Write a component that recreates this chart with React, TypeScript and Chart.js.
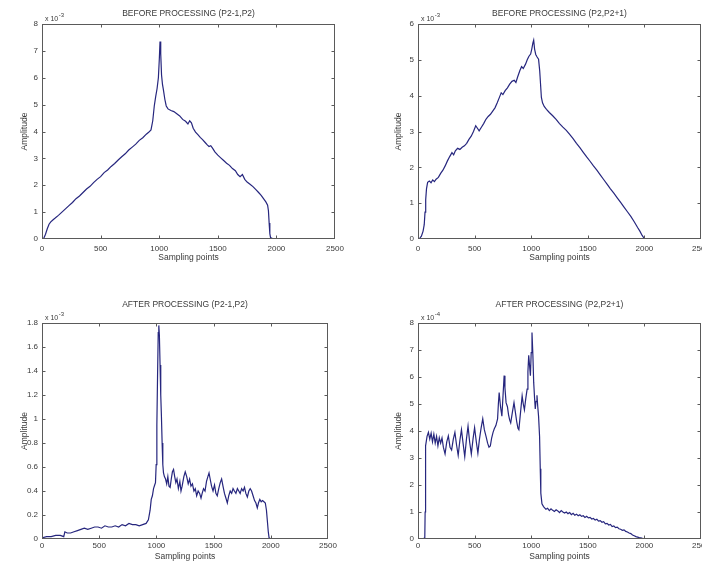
import React, { useEffect, useRef } from "react";
import { Chart, registerables } from "chart.js";

Chart.register(...registerables);

const FONT = "'Liberation Sans', Arial, Helvetica, sans-serif";
const LINE = "#26267e";
const TXT = "#3a3a3a";
const FRAME = "#5a5a5a";

const xTickValues = [0, 500, 1000, 1500, 2000, 2500];

const titles = [
  "BEFORE PROCESSING (P2-1,P2)",
  "BEFORE PROCESSING (P2,P2+1)",
  "AFTER PROCESSING (P2-1,P2)",
  "AFTER PROCESSING (P2,P2+1)",
];
const xLabel = "Sampling points";
const yLabel = "Amplitude";

// Top-left: before processing (P2-1,P2), amplitude x 10^-3
const tlX = [
  0, 15, 30, 45, 60, 75, 90, 110, 140, 170, 200, 230, 260, 290, 320, 350, 380, 410, 440, 470,
  500, 530, 560, 590, 620, 650, 680, 710, 740, 770, 800, 830, 860, 890, 910, 930, 945, 958, 970, 982,
  993, 1001, 1007, 1013, 1020, 1028, 1036, 1048, 1060, 1075, 1100, 1125, 1150, 1175, 1200, 1225, 1245, 1260, 1275, 1290,
  1310, 1330, 1350, 1370, 1390, 1410, 1425, 1440, 1455, 1475, 1500, 1525, 1550, 1575, 1600, 1625, 1650, 1670, 1690, 1710,
  1730, 1750, 1775, 1800, 1825, 1850, 1870, 1890, 1910, 1925, 1932, 1938, 1944, 1950, 1970, 2000,
];
const tlY = [
  0, 0.03, 0.18, 0.38, 0.55, 0.64, 0.7, 0.77, 0.88, 1.0, 1.12, 1.24, 1.36, 1.5, 1.6, 1.73, 1.86, 1.96, 2.1, 2.22,
  2.32, 2.47, 2.57, 2.7, 2.81, 2.94, 3.06, 3.17, 3.31, 3.42, 3.53, 3.67, 3.77, 3.9, 3.97, 4.06, 4.4, 4.95, 5.3, 5.6,
  6.0, 6.7, 7.35, 6.9, 6.1, 5.75, 5.55, 5.2, 4.95, 4.84, 4.78, 4.74, 4.66, 4.58, 4.45, 4.38, 4.28, 4.4, 4.32, 4.12,
  3.98, 3.88, 3.78, 3.7, 3.6, 3.5, 3.44, 3.47, 3.38, 3.24, 3.12, 3.02, 2.92, 2.82, 2.74, 2.62, 2.54, 2.4, 2.32, 2.4,
  2.22, 2.12, 2.04, 1.95, 1.84, 1.72, 1.62, 1.5, 1.38, 1.26, 1.05, 0.6, 0.2, 0.05, 0.01, 0,
];

// Top-right: before processing (P2,P2+1), amplitude x 10^-3
const trX = [
  0, 15, 30, 45, 55, 62, 68, 75, 85, 100, 115, 130, 145, 160, 180, 200, 220, 240, 260, 280,
  300, 315, 330, 350, 370, 390, 410, 430, 450, 470, 490, 510, 525, 540, 560, 580, 600, 620, 640, 660,
  680, 700, 720, 735, 750, 770, 790, 810, 830, 850, 865, 880, 900, 915, 930, 950, 965, 980, 995, 1005,
  1015, 1022, 1030, 1040, 1052, 1065, 1075, 1083, 1090, 1100, 1115, 1135, 1160, 1190, 1220, 1250, 1280, 1310, 1340, 1370,
  1400, 1430, 1460, 1490, 1520, 1550, 1580, 1610, 1640, 1670, 1700, 1730, 1760, 1790, 1820, 1850, 1880, 1910, 1940, 1960,
  1980, 1995, 2010,
];
const trY = [
  0, 0.02, 0.08, 0.22, 0.4, 0.75, 1.1, 1.4, 1.58, 1.62, 1.57, 1.65, 1.6, 1.67, 1.72, 1.83, 1.92, 2.04, 2.18, 2.3,
  2.41, 2.35, 2.46, 2.53, 2.5, 2.56, 2.6, 2.67, 2.78, 2.87, 3.0, 3.16, 3.09, 3.02, 3.12, 3.22, 3.34, 3.42, 3.48, 3.57,
  3.66, 3.8, 3.96, 4.08, 4.03, 4.14, 4.22, 4.32, 4.4, 4.43, 4.37, 4.52, 4.7, 4.81, 4.76, 4.88, 5.0, 5.1, 5.16, 5.3,
  5.47, 5.55, 5.3, 5.15, 5.08, 5.02, 4.7, 4.3, 3.95, 3.8, 3.7, 3.62, 3.53, 3.44, 3.34, 3.22, 3.12, 3.03, 2.92, 2.8,
  2.67, 2.55, 2.42, 2.29, 2.17, 2.04, 1.92, 1.79, 1.66, 1.53, 1.4, 1.28, 1.15, 1.02, 0.89, 0.76, 0.63, 0.48, 0.32, 0.22,
  0.1, 0.03, 0,
];

// Bottom-left: after processing (P2-1,P2), amplitude x 10^-3
const blX = [
  0, 40, 80, 120, 160, 190, 200, 220, 250, 280, 310, 340, 370, 400, 430, 460, 490, 520, 550, 580,
  610, 640, 670, 700, 730, 760, 790, 820, 850, 880, 910, 930, 945, 955, 965, 975, 985, 992, 998, 1004,
  1010, 1016, 1021, 1026, 1032, 1038, 1044, 1050, 1056, 1062, 1070, 1080, 1090, 1100, 1110, 1120, 1130, 1140, 1150, 1160,
  1170, 1180, 1192, 1205, 1215, 1225, 1240, 1252, 1265, 1278, 1290, 1302, 1315, 1328, 1340, 1352, 1365, 1378, 1390, 1400,
  1412, 1425, 1438, 1450, 1460, 1470, 1482, 1495, 1508, 1520, 1532, 1545, 1558, 1570, 1582, 1595, 1608, 1620, 1632, 1645,
  1658, 1670, 1682, 1695, 1708, 1720, 1732, 1745, 1758, 1770, 1782, 1795, 1808, 1820, 1832, 1845, 1858, 1870, 1882, 1892,
  1904, 1916, 1928, 1940, 1952, 1962, 1970, 1978, 1985, 2000,
];
const blY = [
  0.01, 0.02, 0.02, 0.03, 0.03, 0.02, 0.06, 0.05, 0.05, 0.06, 0.07, 0.08, 0.09, 0.08, 0.09, 0.1, 0.1, 0.09, 0.11, 0.1,
  0.1, 0.11, 0.1, 0.12, 0.11, 0.13, 0.12, 0.12, 0.11, 0.12, 0.13, 0.16, 0.24, 0.33, 0.36, 0.42, 0.45, 0.47, 0.62, 0.95,
  1.35, 1.72, 1.78, 1.7, 1.45, 1.2, 1.02, 0.8, 0.62, 0.55, 0.52, 0.5, 0.46, 0.52, 0.44, 0.43, 0.5, 0.56, 0.58, 0.52,
  0.47, 0.5, 0.42, 0.48, 0.4, 0.44, 0.52, 0.56, 0.52, 0.46, 0.5, 0.44, 0.46, 0.4, 0.42, 0.36, 0.4, 0.38, 0.34, 0.38,
  0.42, 0.4, 0.48, 0.52, 0.55, 0.5, 0.44, 0.4, 0.45, 0.38, 0.36, 0.42, 0.47, 0.5, 0.44, 0.38, 0.34, 0.3, 0.36, 0.4,
  0.38, 0.42, 0.4, 0.38, 0.42, 0.4, 0.38, 0.42, 0.4, 0.43, 0.38, 0.35, 0.4, 0.42, 0.4, 0.36, 0.32, 0.3, 0.26, 0.3,
  0.33, 0.31, 0.32, 0.31, 0.3, 0.24, 0.15, 0.06, 0.01, 0,
];

// Bottom-right: after processing (P2,P2+1), amplitude x 10^-4
const brX = [
  0, 30, 50, 60, 63, 65, 67, 69, 80, 92, 104, 116, 128, 140, 152, 164, 176, 188, 200, 212,
  224, 239, 254, 268, 283, 297, 312, 326, 340, 355, 370, 384, 398, 413, 428, 442, 456, 471, 486, 500,
  515, 529, 543, 557, 572, 586, 601, 615, 627, 639, 651, 663, 674, 688, 703, 710, 717, 729, 741, 751,
  761, 768, 778, 790, 800, 810, 819, 834, 848, 860, 872, 883, 891, 906, 920, 930, 940, 952, 964, 971,
  978, 986, 993, 1000, 1007, 1015, 1022, 1030, 1036, 1043, 1051, 1058, 1065, 1074, 1080, 1085, 1095, 1109, 1130, 1145,
  1160, 1175, 1190, 1205, 1220, 1235, 1250, 1265, 1280, 1295, 1310, 1325, 1340, 1355, 1370, 1385, 1400, 1415, 1430, 1445,
  1460, 1475, 1490, 1505, 1520, 1535, 1550, 1565, 1580, 1595, 1610, 1625, 1640, 1655, 1670, 1685, 1700, 1715, 1730, 1745,
  1760, 1775, 1790, 1805, 1820, 1835, 1850, 1865, 1880, 1895, 1910, 1925, 1940, 1955, 1970, 1985, 2000, 2015,
];
const brY = [
  0, 0, 0.02, 0.05, 1.0, 1.9, 2.8, 3.45, 3.8, 3.95, 3.7, 3.92, 3.6, 3.88, 3.55, 3.8, 3.45, 3.75, 3.55, 3.74,
  3.4, 3.15, 3.6, 3.82, 3.4, 3.3, 3.7, 3.95, 3.5, 3.1, 3.65, 4.05, 3.55, 3.05, 3.7, 4.18, 3.6, 3.15, 3.7, 4.12,
  3.6, 3.18, 3.7, 4.1, 4.45, 4.05, 3.8, 3.55, 3.4, 3.45, 3.75, 3.95, 4.08, 4.2, 4.45, 5.0, 5.42, 4.9, 4.55, 5.3,
  6.05, 5.6, 5.05, 4.9, 4.6, 4.4, 4.3, 4.7, 5.05, 4.7, 4.35, 4.1, 4.05, 4.7, 5.3, 5.0, 4.78, 5.2, 5.55, 6.2,
  6.8, 6.4, 6.05, 6.9, 7.65, 6.8, 5.8, 5.2, 4.82, 5.1, 5.32, 4.9, 4.55, 3.8, 2.6, 1.7, 1.3, 1.2, 1.1, 1.14,
  1.05, 1.12, 1.06, 1.02, 1.08, 1.04, 0.98, 1.05, 1.0, 0.96, 1.0, 0.94, 0.98, 0.9, 0.95, 0.88, 0.92, 0.86, 0.9, 0.84,
  0.86, 0.8, 0.84, 0.78, 0.8, 0.74, 0.76, 0.7, 0.73, 0.66, 0.68, 0.62, 0.64, 0.56, 0.58, 0.52, 0.54, 0.46, 0.48, 0.42,
  0.44, 0.38, 0.36, 0.32, 0.34, 0.28, 0.26, 0.22, 0.2, 0.15, 0.12, 0.09, 0.07, 0.05, 0.04, 0.02, 0.01, 0,
];

type Panel = {
  title: string;
  xs: number[];
  ys: number[];
  yMax: number;
  yStep: number;
  exp: string;
  left: number;
  top: number;
  width: number;
  height: number;
  yW: number;
  xH: number;
  padRight: number;
  titleTop: number;
  titleBottom: number;
  yTitlePad: number;
  xTitlePad: number;
  xTickPad: number;
};

// title line height: 8.5 * 1.2 = 10.2
const panels: Panel[] = [
  {
    title: titles[0], xs: tlX, ys: tlY, yMax: 8, yStep: 1, exp: "-3",
    left: 0, top: 0, width: 345, height: 270, yW: 42, xH: 31, padRight: 10,
    titleTop: 9, titleBottom: 4.8, yTitlePad: 19.5, xTitlePad: 7.5, xTickPad: 4.5,
  },
  {
    title: titles[1], xs: trX, ys: trY, yMax: 6, yStep: 1, exp: "-3",
    left: 351, top: 0, width: 351, height: 270, yW: 67, xH: 31, padRight: 1,
    titleTop: 9, titleBottom: 4.8, yTitlePad: 42.5, xTitlePad: 7.5, xTickPad: 4.5,
  },
  {
    title: titles[2], xs: blX, ys: blY, yMax: 1.8, yStep: 0.2, exp: "-3",
    left: 0, top: 281, width: 345, height: 281, yW: 42, xH: 23, padRight: 17,
    titleTop: 18.9, titleBottom: 12.9, yTitlePad: 19.5, xTitlePad: 0, xTickPad: 1.5,
  },
  {
    title: titles[3], xs: brX, ys: brY, yMax: 8, yStep: 1, exp: "-4",
    left: 351, top: 281, width: 351, height: 281, yW: 67, xH: 23, padRight: 1,
    titleTop: 18.9, titleBottom: 12.9, yTitlePad: 42.5, xTitlePad: 0, xTickPad: 1.5,
  },
];

function makeFrame(exp: string) {
  return {
    id: "matlabFrame",
    afterDraw(chart: any) {
      const { ctx, chartArea: a, scales } = chart;
      ctx.save();
      ctx.strokeStyle = FRAME;
      ctx.lineWidth = 1;
      const L = Math.round(a.left) + 0.5;
      const R = Math.round(a.right) - 0.5;
      const T = Math.round(a.top) + 0.5;
      const B = Math.round(a.bottom) - 0.5;
      ctx.strokeRect(L, T, R - L, B - T);
      ctx.beginPath();
      scales.x.ticks.forEach((t: any) => {
        const px = Math.min(R, Math.max(L, Math.round(scales.x.getPixelForValue(t.value)) + 0.5));
        ctx.moveTo(px, B);
        ctx.lineTo(px, B - 3);
        ctx.moveTo(px, T);
        ctx.lineTo(px, T + 3);
      });
      scales.y.ticks.forEach((t: any) => {
        const py = Math.min(B, Math.max(T, Math.round(scales.y.getPixelForValue(t.value)) + 0.5));
        ctx.moveTo(L, py);
        ctx.lineTo(L + 3, py);
        ctx.moveTo(R, py);
        ctx.lineTo(R - 3, py);
      });
      ctx.stroke();
      ctx.fillStyle = TXT;
      ctx.textBaseline = "alphabetic";
      ctx.textAlign = "left";
      ctx.font = `7px ${FONT}`;
      const base = "x 10";
      ctx.fillText(base, a.left + 3, a.top - 3);
      const w = ctx.measureText(base).width;
      ctx.font = `6px ${FONT}`;
      ctx.fillText(exp, a.left + 3 + w + 0.5, a.top - 7);
      ctx.restore();
    },
  };
}

function PanelChart({ p }: { p: Panel }) {
  const ref = useRef<HTMLCanvasElement | null>(null);
  useEffect(() => {
    if (!ref.current) return;
    const data = p.xs.map((x, i) => ({ x, y: p.ys[i] }));
    const tickFont = { family: FONT, size: 8 };
    const chart = new Chart(ref.current, {
      type: "line",
      data: {
        datasets: [
          {
            data,
            borderColor: LINE,
            borderWidth: 1.2,
            pointRadius: 0,
            fill: false,
            tension: 0,
          },
        ],
      },
      options: {
        animation: false,
        responsive: false,
        events: [],
        layout: { padding: { left: 0, right: p.padRight, top: 0, bottom: 0 } },
        plugins: {
          legend: { display: false },
          tooltip: { enabled: false },
          title: {
            display: true,
            text: p.title,
            color: TXT,
            fullSize: false,
            font: { family: FONT, size: 8.5, weight: "normal" },
            padding: { top: p.titleTop, bottom: p.titleBottom },
          },
        },
        scales: {
          x: {
            type: "linear",
            min: 0,
            max: 2500,
            afterBuildTicks: (s: any) => {
              s.ticks = xTickValues.map((v) => ({ value: v }));
            },
            ticks: {
              autoSkip: false,
              maxRotation: 0,
              minRotation: 0,
              padding: p.xTickPad,
              color: TXT,
              font: tickFont,
              callback: (v: any) => String(v),
            },
            grid: { display: false, drawTicks: false },
            border: { display: false },
            title: {
              display: true,
              text: xLabel,
              color: TXT,
              font: { family: FONT, size: 8.5 },
              padding: { top: 0, bottom: p.xTitlePad },
            },
            afterFit: (s: any) => {
              s.height = p.xH;
              s.paddingLeft = 0;
              s.paddingRight = 0;
            },
          },
          y: {
            type: "linear",
            min: 0,
            max: p.yMax,
            ticks: {
              stepSize: p.yStep,
              autoSkip: false,
              padding: 4,
              color: TXT,
              font: tickFont,
              callback: (v: any) => String(Math.round(Number(v) * 10) / 10),
            },
            grid: { display: false, drawTicks: false },
            border: { display: false },
            title: {
              display: true,
              text: yLabel,
              color: TXT,
              font: { family: FONT, size: 8.5 },
              padding: { top: p.yTitlePad, bottom: 0 },
            },
            afterFit: (s: any) => {
              s.width = p.yW;
              s.paddingTop = 0;
              s.paddingBottom = 0;
            },
          },
        },
      },
      plugins: [makeFrame(p.exp)],
    } as any);
    return () => chart.destroy();
  }, [p]);
  return (
    <canvas
      ref={ref}
      width={p.width}
      height={p.height}
      style={{ position: "absolute", left: p.left, top: p.top, width: p.width, height: p.height }}
    />
  );
}

export default function App() {
  return (
    <div
      style={{
        position: "absolute",
        left: 0,
        top: 0,
        width: 702,
        height: 562,
        overflow: "hidden",
        background: "#ffffff",
      }}
    >
      {panels.map((p, i) => (
        <PanelChart key={i} p={p} />
      ))}
    </div>
  );
}
